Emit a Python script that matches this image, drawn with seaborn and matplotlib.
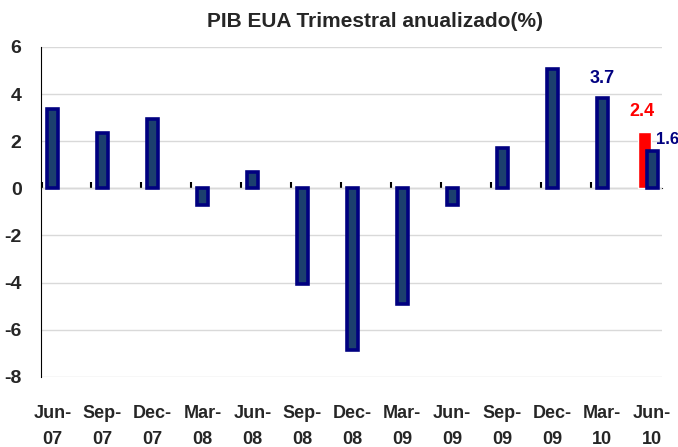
import numpy as np
import pandas as pd
import seaborn as sns
import matplotlib.pyplot as plt

sns.set_style("white")
plt.rcParams['font.family'] = ['Liberation Sans Narrow', 'Liberation Sans', 'DejaVu Sans']

# PIB EUA, variação trimestral anualizada (%)
trimestres = ['Jun-\n07', 'Sep-\n07', 'Dec-\n07', 'Mar-\n08', 'Jun-\n08', 'Sep-\n08', 'Dec-\n08',
              'Mar-\n09', 'Jun-\n09', 'Sep-\n09', 'Dec-\n09', 'Mar-\n10', 'Jun-\n10']
pib = [3.35, 2.35, 2.95, -0.7, 0.7, -4.05, -6.85, -4.9, -0.7, 1.7, 5.05, 3.85, 1.6]
estimativa = 2.4          # valor anterior (vermelho) para Jun-10
rotulo_mar10 = '3.7'
rotulo_est = '2.4'
rotulo_jun10 = '1.6'

df = pd.DataFrame({'trimestre': trimestres, 'pib': pib})

fig = plt.figure(figsize=(6.78, 4.47), dpi=100)
ax = fig.add_axes([0.0605, 0.157, 0.916, 0.738])

# barra vermelha (estimativa) atrás da azul
ax.bar(len(trimestres) - 1 - 0.15, estimativa, width=0.25, color='#ff0000', zorder=2)
sns.barplot(data=df, x='trimestre', y='pib', color='#1c3f6e', width=0.22,
            edgecolor='#000080', linewidth=2.6, saturation=1, ax=ax, zorder=3)

ax.set_ylim(-8, 6)
ax.set_xlim(-0.23, 12.2)
ax.set_yticks(np.arange(-8, 7, 2))
ax.set_yticklabels([str(v) for v in range(-8, 7, 2)], fontsize=14, fontweight='bold')
ax.yaxis.grid(True, color='#d9d9d9', linewidth=1)
ax.set_axisbelow(True)

ax.set_xticks(range(len(trimestres)))
ax.set_xticklabels(trimestres, fontsize=13, fontweight='bold', linespacing=1.75)
ax.tick_params(axis='x', which='major', length=0, pad=20)
ax.tick_params(axis='y', length=6, width=1.2, direction='out', color='black', pad=8)

for s in ['top', 'right', 'bottom']:
    ax.spines[s].set_visible(False)
ax.spines['left'].set_color('black')

# eixo do zero com marcas entre as categorias
zero = ax.secondary_xaxis(8 / 14)
zero.set_xticks(np.arange(len(trimestres)) - 0.22)
zero.set_xticklabels([])
zero.tick_params(axis='x', length=4, width=1.5, direction='out', color='black')
zero.spines['bottom'].set_linewidth(1.5)
zero.spines['bottom'].set_zorder(4)

ax.set_xlabel('')
ax.set_ylabel('')

ax.text(11, pib[11] + 0.45, rotulo_mar10, color='#000080', fontsize=13, fontweight='bold',
        ha='center', va='bottom')
ax.text(12 - 0.2, estimativa + 0.5, rotulo_est, color='#ff0000', fontsize=13, fontweight='bold',
        ha='center', va='bottom')
ax.text(12 + 0.08, pib[12] + 0.15, rotulo_jun10, color='#000080', fontsize=12, fontweight='bold',
        ha='left', va='bottom')

fig.text(0.553, 0.951, 'PIB EUA Trimestral anualizado(%)', fontsize=15, fontweight='bold',
         ha='center', va='center')

fig.savefig('out.png', dpi=100)
